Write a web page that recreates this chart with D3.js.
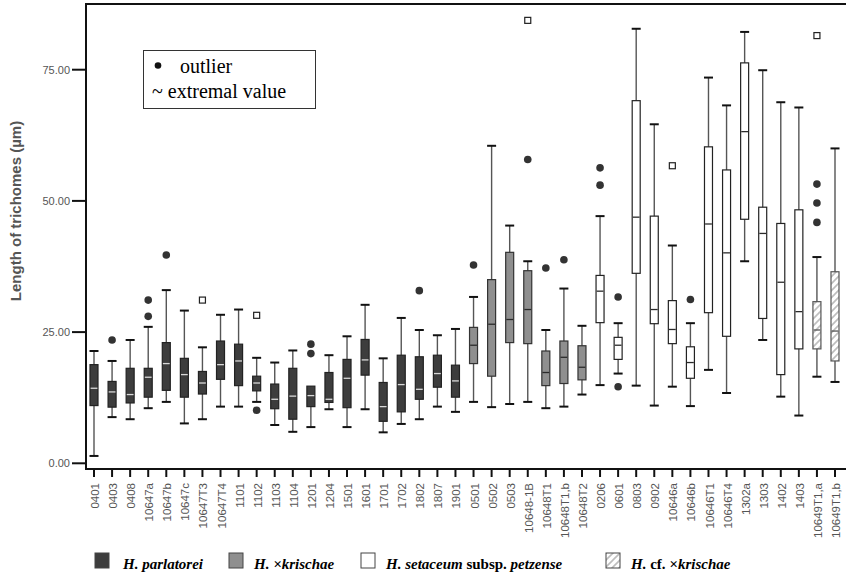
<!DOCTYPE html>
<html>
<head>
<meta charset="utf-8">
<script src="https://cdn.jsdelivr.net/npm/d3@7"></script>
<style>
  body { margin: 0; background: #fff; }
  svg { display: block; }
</style>
</head>
<body>
<div id="chart"></div>
<script>
const WIDTH = 847;
const HEIGHT = 575;

const categories = ['0401','0403','0408','10647a','10647b','10647c','10647T3','10647T4','1101','1102','1103','1104','1201','1204','1501','1601','1701','1702','1802','1807','1901',
  '0501','0502','0503','10648-1B','10648T1','10648T1,b','10648T2',
  '0206','0601','0803','0902','10646a','10646b','10646T1','10646T4','1302a','1303','1402','1403',
  '10649T1,a','10649T1,b'];

// taxon of each sample: p = parlatorei, k = ×krischae, s = setaceum petzense, c = cf. ×krischae
const groups = ['p','p','p','p','p','p','p','p','p','p','p','p','p','p','p','p','p','p','p','p','p',
  'k','k','k','k','k','k','k',
  's','s','s','s','s','s','s','s','s','s','s','s',
  'c','c'];

const whiskerLow = [1.4,8.8,8.4,10.5,11.7,7.6,8.4,10.8,10.8,11.7,7.3,6.0,6.9,10.3,6.9,10.3,5.9,7.5,8.4,10.8,9.8,
  11.7,10.7,11.3,11.7,10.5,10.8,13.1,
  14.9,17.1,14.8,11.0,14.6,10.9,17.8,13.4,38.5,23.5,12.7,9.1,
  16.5,15.5];
const q1 = [11.0,10.7,11.5,12.6,13.9,12.6,13.2,16.0,14.8,13.8,10.4,8.4,10.8,11.6,10.6,16.8,8.0,9.8,12.2,14.5,12.6,
  19.0,16.6,23.0,22.8,14.8,15.2,15.9,
  26.8,19.8,36.2,26.6,22.8,16.2,28.7,24.2,46.5,27.6,16.9,21.8,
  21.8,19.5];
const medians = [14.3,13.6,13.1,16.4,19.0,16.9,15.3,18.8,19.5,15.3,12.2,12.8,12.9,12.2,16.2,19.7,10.8,15.0,14.1,17.1,15.7,
  22.5,26.5,27.4,29.3,17.3,20.2,18.3,
  32.8,22.5,46.9,29.3,25.5,19.2,45.6,40.1,63.2,43.8,34.5,28.9,
  25.4,25.2];
const q3 = [18.8,15.6,18.1,18.1,23.0,20.0,17.5,23.3,22.7,16.6,15.1,18.1,14.7,17.3,19.8,23.6,15.4,20.6,20.3,20.6,18.7,
  25.9,35.0,40.2,36.7,21.4,23.3,22.4,
  35.8,24.0,69.1,47.1,31.0,22.2,60.3,55.9,76.3,48.8,45.7,48.3,
  30.8,36.5];
const whiskerHigh = [21.4,19.5,23.5,26.0,33.0,29.1,22.1,28.3,29.3,20.1,19.2,21.5,14.7,20.6,24.2,30.2,20.0,27.7,25.4,24.4,25.6,
  31.7,60.5,45.3,38.5,25.4,33.3,26.2,
  47.1,26.7,82.8,64.6,41.5,26.7,73.5,68.2,82.2,74.9,68.8,67.8,
  39.3,60.0];

const outliers = [
  ['0403', 23.5], ['10647a', 31.1], ['10647a', 28.0], ['10647b', 39.7], ['1102', 10.1],
  ['1201', 22.7], ['1201', 20.9], ['1802', 32.9], ['0501', 37.8], ['10648-1B', 57.9],
  ['10648T1', 37.2], ['10648T1,b', 38.8], ['0206', 56.3], ['0206', 53.0], ['0601', 31.7],
  ['0601', 14.6], ['10646b', 31.2], ['10649T1,a', 53.2], ['10649T1,a', 49.6], ['10649T1,a', 45.9]
];
const extremes = [['10647T3', 31.1], ['1102', 28.2], ['10648-1B', 84.4], ['10646a', 56.7], ['10649T1,a', 81.5]];

const yTicks = [0, 25, 50, 75];

const fills = { p: '#3d3d3d', k: '#8f8f8f', s: '#ffffff', c: 'url(#hatch)' };
const medianColors = { p: '#d8d8d8', k: '#2a2a2a', s: '#2a2a2a', c: '#555' };
const boxStroke = { p: '#222', k: '#333', s: '#222', c: '#555' };

const legendItems = [
  { g: 'p', x: 95, parts: [['H. parlatorei', 'italic']] },
  { g: 'k', x: 229, parts: [['H. ×krischae', 'italic']] },
  { g: 's', x: 361, parts: [['H. setaceum ', 'italic'], ['subsp. ', 'normal'], ['petzense', 'italic']] },
  { g: 'c', x: 606, parts: [['H. ', 'italic'], ['cf. ', 'normal'], ['×krischae', 'italic']] }
];

const boxes = categories.map((c, i) => ({
  key: c, group: groups[i], lo: whiskerLow[i], q1: q1[i], med: medians[i], q3: q3[i], hi: whiskerHigh[i]
}));

const plotLeft = 86, plotRight = 846, plotTop = 4, plotBottom = 469;

const xScale = d3.scalePoint()
  .domain(categories)
  .range([94, 835]);

const yScale = d3.scaleLinear()
  .domain([0, 75])
  .range([463.3, 69.7]);

const svg = d3.select('#chart')
  .append('svg')
  .attr('width', WIDTH)
  .attr('height', HEIGHT)
  .style('font-family', 'Liberation Sans, Arial, sans-serif');

const defs = svg.append('defs');
const hatch = defs.append('pattern')
  .attr('id', 'hatch')
  .attr('patternUnits', 'userSpaceOnUse')
  .attr('width', 7)
  .attr('height', 7);
hatch.append('rect').attr('width', 7).attr('height', 7).attr('fill', '#fff');
hatch.append('path')
  .attr('d', 'M-1,8 L8,-1 M-4,4 L4,-4 M3,11 L11,3')
  .attr('stroke', '#bdbdbd')
  .attr('stroke-width', 1.6);

// frame: left axis, top and bottom lines
svg.append('path')
  .attr('d', `M${plotRight},${plotTop} H${plotLeft} V${plotBottom} H${plotRight}`)
  .attr('fill', 'none')
  .attr('stroke', '#111')
  .attr('stroke-width', 2);

// y axis ticks
const yAxis = svg.append('g');
yAxis.selectAll('line')
  .data(yTicks)
  .enter()
  .append('line')
  .attr('x1', 72).attr('x2', plotLeft)
  .attr('y1', d => yScale(d)).attr('y2', d => yScale(d))
  .attr('stroke', '#111')
  .attr('stroke-width', 2);
yAxis.selectAll('text')
  .data(yTicks)
  .enter()
  .append('text')
  .attr('x', 70)
  .attr('y', d => yScale(d))
  .attr('dy', '0.35em')
  .attr('text-anchor', 'end')
  .attr('font-size', 11)
  .attr('fill', '#555')
  .text(d => d3.format('.2f')(d));

svg.append('text')
  .attr('transform', 'translate(21,211) rotate(-90)')
  .attr('text-anchor', 'middle')
  .attr('font-size', 15)
  .attr('font-weight', 'bold')
  .attr('fill', '#555')
  .text('Length of trichomes (µm)');

// x axis ticks and labels
const xAxis = svg.append('g');
xAxis.selectAll('line')
  .data(categories)
  .enter()
  .append('line')
  .attr('x1', d => xScale(d)).attr('x2', d => xScale(d))
  .attr('y1', plotBottom).attr('y2', 477)
  .attr('stroke', '#111')
  .attr('stroke-width', 2);
xAxis.selectAll('text')
  .data(categories)
  .enter()
  .append('text')
  .attr('transform', d => `translate(${xScale(d) + 1},483) rotate(-90)`)
  .attr('dy', '0.35em')
  .attr('text-anchor', 'end')
  .attr('font-size', 11.5)
  .attr('fill', '#555')
  .text(d => d);

// boxes
const bw = 8;
const boxGroups = svg.selectAll('g.box')
  .data(boxes)
  .enter()
  .append('g')
  .attr('class', 'box')
  .attr('transform', d => `translate(${xScale(d.key)},0)`);

boxGroups.append('line')
  .attr('y1', d => yScale(d.lo)).attr('y2', d => yScale(d.hi))
  .attr('stroke', '#555')
  .attr('stroke-width', 1.4);

boxGroups.selectAll('line.cap')
  .data(d => d.hi > d.q3 ? [d.lo, d.hi] : [d.lo])
  .enter()
  .append('line')
  .attr('class', 'cap')
  .attr('x1', -bw / 2 - 0.5).attr('x2', bw / 2 + 0.5)
  .attr('y1', v => yScale(v)).attr('y2', v => yScale(v))
  .attr('stroke', '#111')
  .attr('stroke-width', 2);

boxGroups.append('rect')
  .attr('x', -bw / 2)
  .attr('width', bw)
  .attr('y', d => yScale(d.q3))
  .attr('height', d => yScale(d.q1) - yScale(d.q3))
  .attr('fill', d => fills[d.group])
  .attr('stroke', d => boxStroke[d.group])
  .attr('stroke-width', 1.2);

boxGroups.append('line')
  .attr('x1', -bw / 2 + 0.6).attr('x2', bw / 2 - 0.6)
  .attr('y1', d => yScale(d.med)).attr('y2', d => yScale(d.med))
  .attr('stroke', d => medianColors[d.group])
  .attr('stroke-width', 1.3);

// outliers and extreme values
svg.selectAll('circle.outlier')
  .data(outliers)
  .enter()
  .append('circle')
  .attr('class', 'outlier')
  .attr('cx', d => xScale(d[0]))
  .attr('cy', d => yScale(d[1]))
  .attr('r', 3.8)
  .attr('fill', '#333');

svg.selectAll('rect.extreme')
  .data(extremes)
  .enter()
  .append('rect')
  .attr('class', 'extreme')
  .attr('x', d => xScale(d[0]) - 3)
  .attr('y', d => yScale(d[1]) - 3)
  .attr('width', 6)
  .attr('height', 6)
  .attr('fill', '#fff')
  .attr('stroke', '#222')
  .attr('stroke-width', 1.2);

// legend inside the plot
const key = svg.append('g').style('font-family', 'Liberation Serif, Times New Roman, serif');
key.append('rect')
  .attr('x', 143.5).attr('y', 50.5)
  .attr('width', 172).attr('height', 58)
  .attr('fill', '#fff')
  .attr('stroke', '#333');
key.append('circle').attr('cx', 158).attr('cy', 65.5).attr('r', 3.3).attr('fill', '#111');
key.append('text').attr('x', 180).attr('y', 72.5).attr('font-size', 20).text('outlier');
key.append('text').attr('x', 152).attr('y', 97.5).attr('font-size', 20).text('~ extremal value');

// taxon legend at the bottom
const legend = svg.selectAll('g.legend')
  .data(legendItems)
  .enter()
  .append('g')
  .attr('class', 'legend')
  .attr('transform', d => `translate(${d.x},553)`);

legend.append('rect')
  .attr('width', 14)
  .attr('height', 15)
  .attr('fill', d => fills[d.g])
  .attr('stroke', '#444')
  .attr('stroke-width', 1);

legend.append('text')
  .attr('x', d => d.g === 'p' ? 28 : 25)
  .attr('y', 16)
  .attr('font-size', 15)
  .attr('font-weight', 'bold')
  .style('font-family', 'Liberation Serif, Times New Roman, serif')
  .selectAll('tspan')
  .data(d => d.parts)
  .enter()
  .append('tspan')
  .attr('font-style', p => p[1])
  .attr('xml:space', 'preserve')
  .text(p => p[0]);
</script>
</body>
</html>
